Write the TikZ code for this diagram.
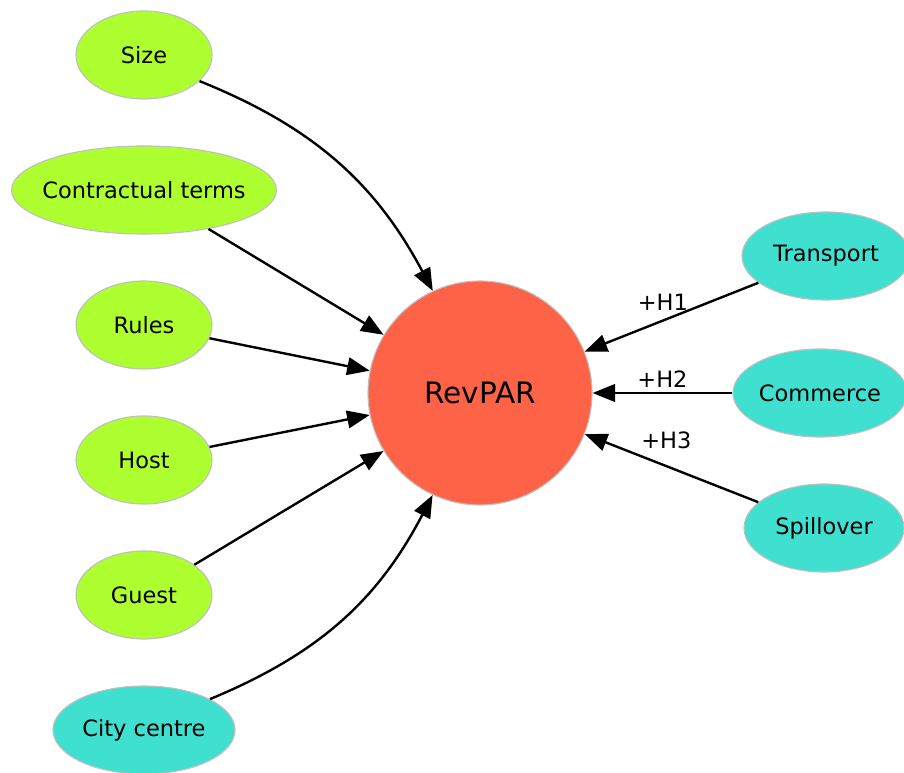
\documentclass[tikz,border=0pt]{standalone}
\usepackage{fontspec}
\setmainfont{DejaVu Sans}
\usepackage{tikz}
\usetikzlibrary{arrows.meta,shapes.geometric}
\usetikzlibrary{positioning}

\definecolor{leafgreen}{HTML}{ADFF2F}
\definecolor{tealblue}{HTML}{40E0D0}
\definecolor{tomatored}{HTML}{FF6347}

\begin{document}
\begin{tikzpicture}[->,>={Triangle[length=16pt,width=12.5pt]},line width=1.7pt,auto,node distance=3.375cm]
            % 设置节点样式
            \tikzstyle{every node}=[font=\fontsize{16}{19}\selectfont]
            \tikzstyle{factor}=[ellipse,draw=black!25,line width=0.8pt,fill=leafgreen,minimum height=2.2cm,minimum width=3.4cm,inner sep=0pt]
            \tikzstyle{place}=[factor,fill=tealblue]

            \useasboundingbox (0,0) rectangle (22.6,-19.325);

            % 定义节点
            \node[factor] (Sz) at (3.6,-1.375) {Size};
            \node[factor,inner xsep=-0.2cm,minimum width=6.6cm] (Ct) [below of=Sz] {Contractual terms};
            \node[factor] (Ru) [below of=Ct] {Rules};
            \node[factor] (Ho) [below of=Ru] {Host};
            \node[factor] (Gu) [below of=Ho] {Guest};
            \node[place,minimum width=4.55cm] (Cc) [below of=Gu] {City centre};
            \node[circle,fill=tomatored,draw=black!25,line width=0.8pt,minimum size=5.6cm,font=\fontsize{21}{25}\selectfont] (R) at (12,-9.825) {RevPAR}; % 中心
            \node[place,minimum width=4.35cm] (Co) at (20.5,-9.825) {Commerce};
            \node[place,minimum width=4.2cm] (Tr) at (20.65,-6.4) {Transport};
            \node[place,minimum width=4cm] (Sp) at (20.6,-13.2) {Spillover};

            % 定义路径
            \path
            (Sz) edge [bend left=20] (R)
            (Ct) edge (R)
            (Ru) edge (R)
            (Ho) edge (R)
            (Gu) edge (R)
            (Cc) edge [bend right=20] (R)
            (Tr) edge node[above=3pt,pos=0.55] {+H1} (R)
            (Co) edge node[above] {+H2} (R)
            (Sp) edge node[above=8pt,pos=0.53] {+H3} (R);
        \end{tikzpicture}
\end{document}
